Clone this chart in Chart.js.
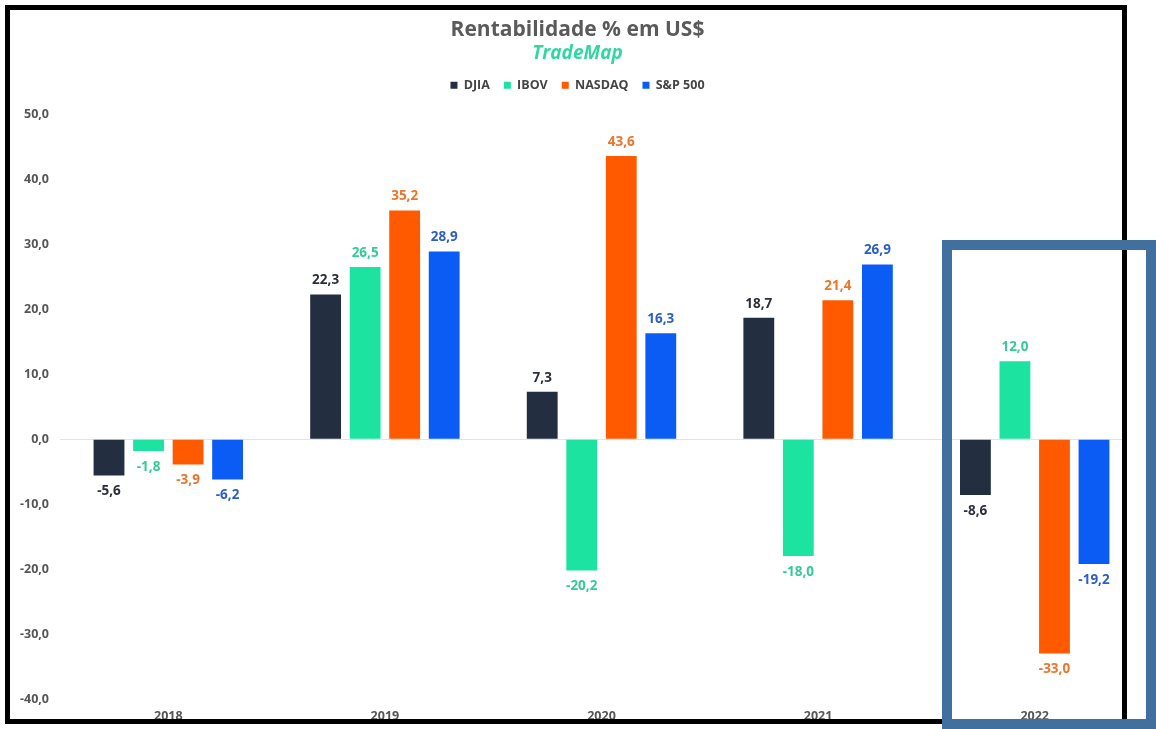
<!DOCTYPE html>
<html>
<head>
<meta charset="utf-8">
<script src="https://cdn.jsdelivr.net/npm/chart.js@4"></script>
<style>
  body { margin: 0; background: #fff; }
  #wrap { position: absolute; left: 0; top: 0; width: 1127px; height: 729px; overflow: hidden; }
  #frame { position: absolute; left: 5px; top: 5px; width: 1112px; height: 709px; border: 5px solid #000; pointer-events: none; }
  #highlight { position: absolute; left: 942px; top: 240px; width: 194px; height: 469px; border: 10px solid #41709f; pointer-events: none; }
</style>
</head>
<body>
<div id="wrap"><canvas id="chart" width="1156" height="729"></canvas></div>
<div id="frame"></div>
<div id="highlight"></div>
<script>
// years on the x axis
const years = ['2018', '2019', '2020', '2021', '2022'];
// yearly return % in US$
const djia = [-5.6, 22.3, 7.3, 18.7, -8.6];
const ibov = [-1.8, 26.5, -20.2, -18.0, 12.0];
const nasdaq = [-3.9, 35.2, 43.6, 21.4, -33.0];
const sp500 = [-6.2, 28.9, 16.3, 26.9, -19.2];

const FONT = 'Open Sans';
const fmt = v => v.toFixed(1).replace('.', ',');

// draws the value above/below every bar
const valueLabels = {
  id: 'valueLabels',
  afterDatasetsDraw(chart) {
    const ctx = chart.ctx;
    ctx.save();
    ctx.font = 'bold 13.5px "' + FONT + '"';
    ctx.textAlign = 'center';
    ctx.textBaseline = 'middle';
    chart.data.datasets.forEach((ds, i) => {
      const meta = chart.getDatasetMeta(i);
      meta.data.forEach((bar, j) => {
        const v = ds.data[j];
        ctx.fillStyle = ds.labelColor;
        const y = v >= 0 ? bar.y - 14 : bar.y + 16;
        ctx.fillText(fmt(v), bar.x, y);
      });
    });
    ctx.restore();
  }
};

new Chart(document.getElementById('chart'), {
  type: 'bar',
  data: {
    labels: years,
    datasets: [
      { label: 'DJIA', data: djia, backgroundColor: '#232e40', labelColor: '#2b2f3a' },
      { label: 'IBOV', data: ibov, backgroundColor: '#1de3a0', labelColor: '#37c996' },
      { label: 'NASDAQ', data: nasdaq, backgroundColor: '#ff5a00', labelColor: '#e8762d' },
      { label: 'S&P 500', data: sp500, backgroundColor: '#0b5cf5', labelColor: '#2c5fc4' }
    ]
  },
  options: {
    responsive: false,
    animation: false,
    categoryPercentage: 0.73,
    barPercentage: 0.78,
    layout: { padding: { top: 10, right: 13, bottom: -5, left: 12 } },
    plugins: {
      title: {
        display: true,
        text: 'Rentabilidade % em US$',
        color: '#5a5a5a',
        font: { family: FONT, size: 21, weight: 'bold' },
        padding: { top: 7, bottom: 0 }
      },
      subtitle: {
        display: true,
        text: 'TradeMap',
        color: '#33d6a1',
        font: { family: FONT, size: 19, weight: 'bold', style: 'italic' },
        padding: { top: 0, bottom: 0 }
      },
      legend: {
        position: 'top',
        labels: {
          boxWidth: 7,
          boxHeight: 7,
          color: '#444',
          padding: 14,
          font: { family: FONT, size: 12.5, weight: 'bold' }
        }
      },
      tooltip: { enabled: false }
    },
    scales: {
      x: {
        grid: { display: false, drawTicks: false },
        border: { display: false },
        ticks: { color: '#555', padding: 10, font: { family: FONT, size: 12.5, weight: 'bold' } }
      },
      // empty spacer axis between legend and plot area
      xSpace: {
        type: 'category',
        position: 'top',
        afterFit(scale) { scale.height = 13; },
        grid: { display: false, drawTicks: false },
        border: { display: false },
        ticks: { display: false }
      },
      y: {
        min: -40,
        max: 50,
        afterFit(scale) { scale.width = 48; },
        border: { display: false },
        grid: {
          drawTicks: false,
          color: c => c.tick && c.tick.value === 0 ? '#e3e3e3' : 'rgba(0,0,0,0)'
        },
        ticks: {
          stepSize: 10,
          padding: 11,
          color: '#555',
          font: { family: FONT, size: 12.5, weight: 'bold' },
          callback: v => fmt(v)
        }
      }
    }
  },
  plugins: [valueLabels]
});
</script>
</body>
</html>
